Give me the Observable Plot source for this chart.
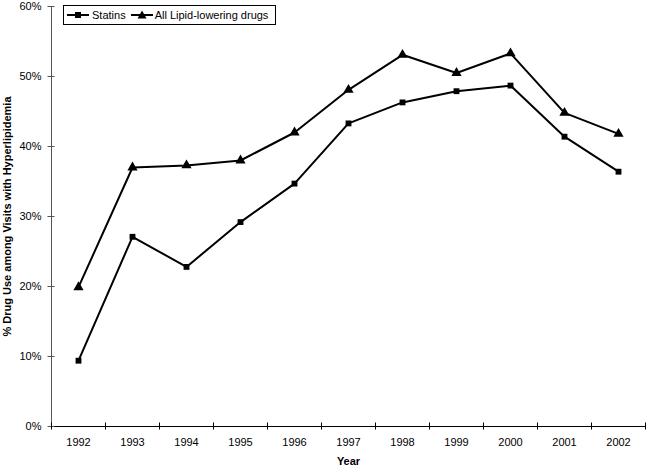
<!DOCTYPE html>
<html>
<head>
<meta charset="utf-8">
<script src="https://cdn.jsdelivr.net/npm/d3@7"></script>
<script src="https://cdn.jsdelivr.net/npm/@observablehq/plot@0.6"></script>
<style>
  body { margin: 0; background: #fff; font-family: "Liberation Sans", Arial, sans-serif; }
  #wrap { position: relative; width: 646px; height: 466px; }
  #legend { position: absolute; left: 63px; top: 5px; height: 18px; width: 211px; border: 1px solid #000; background: #fff;
            display: flex; align-items: center; font-size: 11px; color: #000; white-space: nowrap; }
  #legend svg { display: block; }
</style>
</head>
<body>
<div id="wrap"></div>
<script>
const years = [1992, 1993, 1994, 1995, 1996, 1997, 1998, 1999, 2000, 2001, 2002];
const statins = [9.4, 27.1, 22.8, 29.2, 34.7, 43.3, 46.3, 47.9, 48.7, 41.4, 36.4];
const allLipid = [19.9, 37.0, 37.3, 38.0, 42.0, 48.1, 53.1, 50.5, 53.3, 44.8, 41.8];
const yTicks = [0, 10, 20, 30, 40, 50, 60];
const seriesNames = ["Statins", "All Lipid-lowering drugs"];
const yTitle = "% Drug Use among Visits with Hyperlipidemia";
const xTitle = "Year";

const statinRows = years.map((year, i) => ({year, value: statins[i]}));
const allRows = years.map((year, i) => ({year, value: allLipid[i]}));
const boundaries = years.map(y => y - 0.5).concat([years[years.length - 1] + 0.5]);

const chart = Plot.plot({
  width: 646,
  height: 466,
  marginLeft: 51,
  marginRight: 1,
  marginTop: 6,
  marginBottom: 40,
  style: {fontFamily: "'Liberation Sans', Arial, sans-serif", fontSize: "11px", color: "#000", background: "#fff"},
  x: {domain: [years[0] - 0.5, years[years.length - 1] + 0.5]},
  y: {domain: [0, 60]},
  marks: [
    Plot.frame({anchor: "left", stroke: "#555"}),
    Plot.ruleY([0], {stroke: "#000"}),
    Plot.axisY({ticks: yTicks, tickSize: 7, dx: 3.5, tickFormat: () => "", stroke: "#555", label: null}),
    Plot.axisY({ticks: yTicks, tickSize: 0, tickPadding: 10, tickFormat: d => d + "%", label: null}),
    Plot.axisX({ticks: boundaries, tickSize: 7, dy: -3.5, tickFormat: () => "", stroke: "#000", label: null}),
    Plot.axisX({ticks: years, tickSize: 0, tickPadding: 12, tickFormat: d => String(d), label: null}),
    Plot.text([yTitle], {frameAnchor: "left", textAnchor: "middle", lineAnchor: "middle", rotate: -90, dx: -44, fontWeight: "bold", fontSize: 11}),
    Plot.text([xTitle], {frameAnchor: "bottom", textAnchor: "middle", lineAnchor: "middle", dy: 35, fontWeight: "bold", fontSize: 11}),
    Plot.line(allRows, {x: "year", y: "value", stroke: "#000", strokeWidth: 2}),
    Plot.line(statinRows, {x: "year", y: "value", stroke: "#000", strokeWidth: 2}),
    Plot.dot(allRows, {x: "year", y: "value", symbol: "triangle", r: 3.8, fill: "#000"}),
    Plot.dot(statinRows, {x: "year", y: "value", symbol: "square", r: 3.3, fill: "#000"})
  ]
});
const wrap = document.getElementById("wrap");
wrap.appendChild(chart);

const legend = document.createElement("div");
legend.id = "legend";
const tri = "M0,-4.5L4.5,3.5L-4.5,3.5Z";
legend.innerHTML =
  `<svg width="22" height="10" style="margin-left:3px"><line x1="0" y1="5" x2="22" y2="5" stroke="#000" stroke-width="2"/><rect x="8" y="2" width="6" height="6" fill="#000"/></svg>` +
  `<span style="margin-left:3px">${seriesNames[0]}</span>` +
  `<svg width="22" height="10" style="margin-left:5px"><line x1="0" y1="5" x2="22" y2="5" stroke="#000" stroke-width="2"/><path transform="translate(11,5)" d="${tri}" fill="#000"/></svg>` +
  `<span style="margin-left:2px">${seriesNames[1]}</span>`;
wrap.appendChild(legend);
</script>
</body>
</html>
